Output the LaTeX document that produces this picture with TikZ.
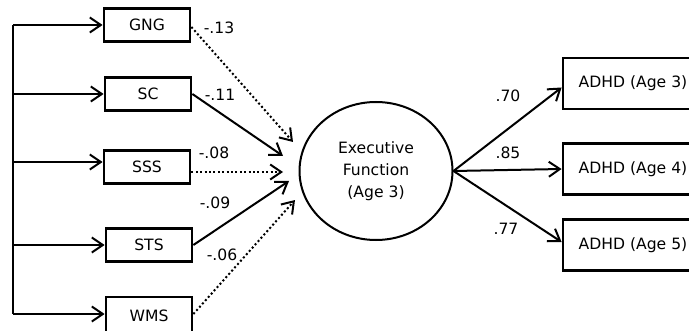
\documentclass[tikz,border=0pt]{standalone}
\usepackage{fontspec}
\setmainfont{DejaVu Sans}
\usetikzlibrary{arrows.meta,positioning,shapes.geometric}
\tikzset{
  measure/.style={draw, line width=1.4pt, minimum width=43pt, minimum height=16.5pt, inner sep=0pt},
  outcome/.style={draw, line width=1.4pt, minimum width=70pt, minimum height=25.5pt, inner sep=0pt},
  link/.style={-{Straight Barb[length=5.5pt,width=7.5pt,line width=1pt]}, line width=1pt},
  weak/.style={link, dash pattern=on 1pt off 1.2pt},
  coef/.style={font=\fontsize{7.8}{9}\selectfont}
}

\begin{document}
\begin{tikzpicture}[x=0.5pt, y=-0.5pt, font=\fontsize{7.8}{9}\selectfont]
  \useasboundingbox (0,0) rectangle (689,331);
  % measures
  \node[measure] (gng) at (147,25)  {GNG};
  \node[measure] (sc)  at (148,94)  {SC};
  \node[measure] (sss) at (147,167) {SSS};
  \node[measure] (sts) at (149,245) {STS};
  \node[measure, minimum height=19pt] (wms) at (149,316) {WMS};
  % latent factor
  \node[ellipse, draw, line width=1pt, minimum width=76.5pt, minimum height=69pt,
        align=center, font=\fontsize{7.8}{11}\selectfont] (ef) at (376,171)
        {Executive\\Function\\(Age 3)};
  % outcomes
  \node[outcome] (a3) at (633,83.5) {ADHD (Age 3)};
  \node[outcome] (a4) at (633,169)  {ADHD (Age 4)};
  \node[outcome] (a5) at (633,245)  {ADHD (Age 5)};
  % trunk on the left
  \coordinate (top) at (13,25);
  \coordinate (bot) at (13,314);
  \draw[line width=1pt] (top) -- (bot);
  \draw[link] (top) -- (gng.west);
  \draw[link] (top |- sc.west) -- (sc.west);
  \draw[link] ([yshift=2.5pt]top |- sss.west) -- ([yshift=2.5pt]sss.west);
  \draw[link] (top |- sts.west) -- (sts.west);
  \draw[link] (bot) -- (bot -| wms.west);
  % loadings
  \coordinate (t1) at (293,142);
  \coordinate (t2) at (283,156);
  \coordinate (t3) at (283,172);
  \coordinate (t4) at (289,181);
  \coordinate (t5) at (295,200);
  \draw[weak] ([yshift=-1pt]gng.east) -- (t1);
  \draw[link] (sc.east) -- (t2);
  \draw[weak] ([yshift=-2.5pt]sss.east) -- (t3);
  \draw[link] (sts.east) -- (t4);
  \draw[weak] ([yshift=1pt]wms.east) -- (t5);
  \node[coef] (l1) at (219,28)  {-.13};
  \node[coef] (l2) at (220,95)  {-.11};
  \node[coef] (l3) at (214,153) {-.08};
  \node[coef] (l4) at (215,203) {-.09};
  \node[coef] (l5) at (222,255) {-.06};
  % paths to outcomes
  \draw[link] (ef.east) -- ([yshift=-2pt]a3.west);
  \draw[link] (ef.east) -- (a4.west);
  \draw[link] (ef.east) -- ([yshift=1.5pt]a5.west);
  \node[coef] (p1) at (508,96)  {.70};
  \node[coef] (p2) at (508,153) {.85};
  \node[coef] (p3) at (506,229) {.77};
\end{tikzpicture}
\end{document}
